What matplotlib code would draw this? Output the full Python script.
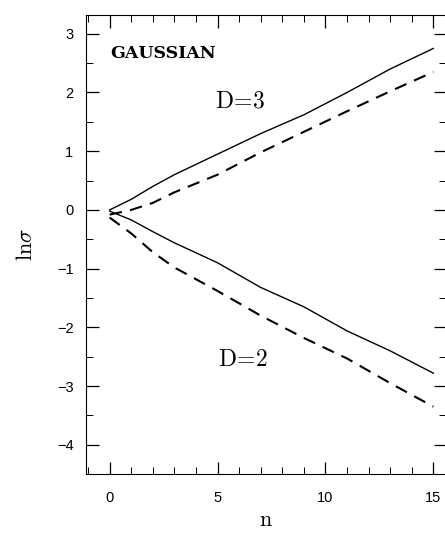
import matplotlib
matplotlib.use("Agg")
import matplotlib.pyplot as plt
from matplotlib.ticker import MultipleLocator

plt.rcParams['mathtext.fontset'] = 'cm'

n = [0, 1, 2, 3, 5, 7, 9, 11, 13, 15]
d3_solid = [0.0, 0.18, 0.40, 0.60, 0.95, 1.30, 1.62, 2.00, 2.40, 2.75]
d3_dashed = [-0.08, 0.0, 0.12, 0.30, 0.60, 0.98, 1.33, 1.68, 2.02, 2.35]
d2_solid = [-0.02, -0.17, -0.37, -0.56, -0.90, -1.32, -1.65, -2.06, -2.40, -2.78]
d2_dashed = [-0.13, -0.40, -0.72, -0.98, -1.38, -1.80, -2.18, -2.53, -2.95, -3.35]

xticks = [0, 5, 10, 15]
yticks = [-4, -3, -2, -1, 0, 1, 2, 3]

fig = plt.figure(figsize=(4.45, 5.34), dpi=100)
ax = fig.add_axes([0.193, 0.112, 0.810, 0.860])

ax.plot(n, d3_solid, color='black', lw=1.0)
ax.plot(n, d2_solid, color='black', lw=1.0)
ax.plot(n, d3_dashed, color='black', lw=1.5, dashes=(6, 4))
ax.plot(n, d2_dashed, color='black', lw=1.5, dashes=(6, 4))

ax.set_xlim(-1.1, 15.6)
ax.set_ylim(-4.5, 3.32)
ax.set_xticks(xticks)
ax.set_yticks(yticks)
ax.set_yticklabels([f"{v}" if v >= 0 else f"\u2212{-v}" for v in yticks])
ax.xaxis.set_minor_locator(MultipleLocator(1))
ax.yaxis.set_minor_locator(MultipleLocator(0.5))
ax.tick_params(which='both', direction='in', top=True, right=True,
               labelsize=10.5)
ax.tick_params(axis='x', pad=12)
ax.tick_params(axis='y', pad=9)
ax.tick_params(which='major', length=9, width=0.9)
ax.tick_params(which='minor', length=5, width=0.7)
for lab in ax.get_xticklabels() + ax.get_yticklabels():
    lab.set_family('Liberation Sans')

ax.set_xlabel(r'$\mathrm{n}$', fontsize=16, labelpad=4)
ax.set_ylabel(r'$\mathrm{ln}\sigma$', fontsize=16, labelpad=15)

ax.text(0.05, 2.66, 'GAUSSIAN', family='DejaVu Serif', fontweight='bold',
        fontsize=12.5, va='center', ha='left')
ax.text(4.9, 1.87, r'$\mathrm{D\!=\!3}$', fontsize=17, va='center', ha='left')
ax.text(5.0, -2.53, r'$\mathrm{D\!=\!2}$', fontsize=17, va='center', ha='left')

fig.savefig('out.png', dpi=100)
